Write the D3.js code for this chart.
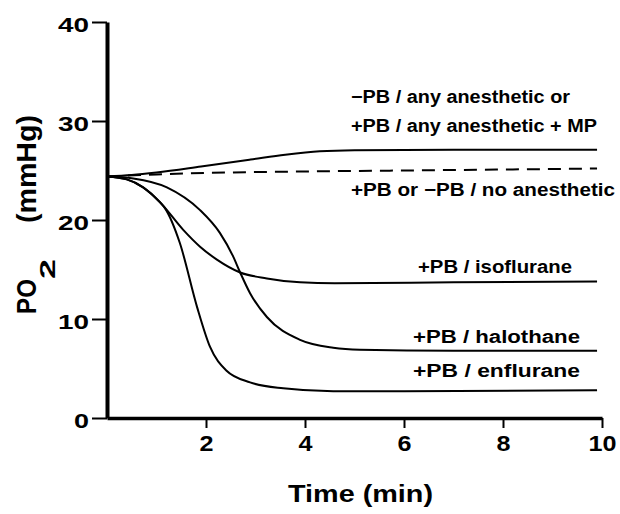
<!DOCTYPE html>
<html>
<head>
<meta charset="utf-8">
<script src="https://d3js.org/d3.v7.min.js"></script>
<style>
    body {
        margin: 0;
        background: #fff;
    }

    svg text {
        font-family: "Liberation Sans", Arial, Helvetica, sans-serif;
        font-weight: bold;
        fill: #000;
    }
</style>
</head>
<body>
<script>

    // axis ticks
    var timeTicks = [2, 4, 6, 8, 10];
    var po2Ticks = [0, 10, 20, 30, 40];

    // [time (min), PO2 (mmHg)]
    var mpCurve = [[0, 24.4], [0.5, 24.55], [1, 24.8], [1.9, 25.4], [2.9, 26.1], [3.6, 26.6],
        [4.3, 26.95], [5, 27.05], [7, 27.1], [9.9, 27.1]];
    var noAnestheticCurve = [[0, 24.4], [1, 24.6], [2, 24.75], [4, 24.9], [6, 25.0], [8, 25.1], [9.9, 25.2]];
    var isofluraneCurve = [[0, 24.4], [0.4, 24.1], [0.73, 23.3], [1.07, 21.8], [1.54, 19.0], [1.88, 17.3],
        [2.22, 16.0], [2.69, 14.7], [3.23, 14.1], [3.9, 13.7], [4.6, 13.6], [7, 13.7], [9.9, 13.8]];
    var halothaneCurve = [[0, 24.4], [0.53, 24.2], [1.21, 23.3], [1.88, 21.0], [2.28, 18.7], [2.55, 16.3],
        [2.69, 14.7], [2.89, 12.6], [3.23, 10.2], [3.9, 7.9], [4.57, 7.1], [5.11, 6.9], [7, 6.8], [9.9, 6.8]];
    var enfluraneCurve = [[0, 24.4], [0.4, 24.1], [0.73, 23.3], [1.07, 21.8], [1.17, 21.2], [1.47, 17.7],
        [1.82, 11.2], [2.08, 7.2], [2.41, 4.8], [2.89, 3.6], [3.56, 3.0], [4.57, 2.7], [6, 2.7], [9.9, 2.8]];

    var curveLabels = ["\u2212PB / any anesthetic or", "+PB / any anesthetic + MP", "+PB or  \u2212PB / no anesthetic",
        "+PB / isoflurane", "+PB / halothane", "+PB / enflurane"];

    var svg = d3.select("body").append("svg")
        .attr("width", 620)
        .attr("height", 514);

    svg.append("rect")
        .attr("width", 620)
        .attr("height", 514)
        .attr("fill", "#fff");

    var xScale = d3.scaleLinear()
        .domain([0, 10])
        .range([107, 602]);

    var yScale = d3.scaleLinear()
        .domain([0, 40])
        .range([418, 22]);

    // y axis
    var yAxis = svg.append("g")
        .attr("transform", "translate(" + xScale(0) + ",0)")
        .call(d3.axisLeft(yScale).tickValues(po2Ticks).tickSize(15).tickSizeOuter(0));

    yAxis.select(".domain").attr("stroke-width", 4);
    yAxis.selectAll(".tick line").attr("stroke-width", 2);
    yAxis.selectAll(".tick text")
        .attr("x", -18)
        .attr("y", 9)
        .attr("dy", null)
        .style("font-size", "21px")
        .attr("textLength", function (d) { return String(d).length > 1 ? 31 : 15; })
        .attr("lengthAdjust", "spacingAndGlyphs");

    // x axis
    var xAxis = svg.append("g")
        .attr("transform", "translate(0," + yScale(0) + ")")
        .call(d3.axisBottom(xScale).tickValues(timeTicks).tickSize(10).tickSizeOuter(0));

    xAxis.select(".domain").attr("stroke-width", 3.5);
    xAxis.selectAll(".tick line").attr("stroke-width", 2);
    xAxis.selectAll(".tick text")
        .attr("y", 33)
        .attr("dy", null)
        .style("font-size", "22px")
        .attr("textLength", function (d) { return String(d).length > 1 ? 28 : 14; })
        .attr("lengthAdjust", "spacingAndGlyphs");

    svg.selectAll(".domain").attr("stroke", "#000");
    svg.selectAll(".tick line").attr("stroke", "#000");
    svg.selectAll(".tick text").attr("fill", "#000");

    // axis titles
    svg.append("text")
        .attr("x", 288)
        .attr("y", 502)
        .style("font-size", "24px")
        .attr("textLength", 145)
        .attr("lengthAdjust", "spacingAndGlyphs")
        .text("Time (min)");

    svg.append("text")
        .attr("transform", "translate(36,314) rotate(-90)")
        .style("font-size", "28px")
        .attr("textLength", 35)
        .attr("lengthAdjust", "spacingAndGlyphs")
        .text("PO");

    svg.append("text")
        .attr("transform", "translate(55,279) rotate(-90)")
        .style("font-size", "22px")
        .attr("textLength", 20)
        .attr("lengthAdjust", "spacingAndGlyphs")
        .text("2");

    svg.append("text")
        .attr("transform", "translate(36,223) rotate(-90)")
        .style("font-size", "28px")
        .attr("textLength", 108)
        .attr("lengthAdjust", "spacingAndGlyphs")
        .text("(mmHg)");

    // curves
    var line = d3.line()
        .x(function (d) { return xScale(d[0]); })
        .y(function (d) { return yScale(d[1]); })
        .curve(d3.curveMonotoneX);

    var solidCurves = [mpCurve, isofluraneCurve, halothaneCurve, enfluraneCurve];

    svg.selectAll(".curve")
        .data(solidCurves)
        .enter().append("path")
        .attr("class", "curve")
        .attr("d", line)
        .attr("fill", "none")
        .attr("stroke", "#000")
        .attr("stroke-width", 2);

    svg.append("path")
        .datum(noAnestheticCurve)
        .attr("d", line)
        .attr("fill", "none")
        .attr("stroke", "#000")
        .attr("stroke-width", 2)
        .attr("stroke-dasharray", "13,8");

    // curve labels: [x, baseline, width]
    var labelPos = [[351, 103, 219], [351, 132, 246], [351, 196, 264],
        [418, 273, 154], [413, 343, 167], [413, 377, 167]];

    svg.selectAll(".curve-label")
        .data(curveLabels)
        .enter().append("text")
        .attr("class", "curve-label")
        .attr("x", function (d, i) { return labelPos[i][0]; })
        .attr("y", function (d, i) { return labelPos[i][1]; })
        .attr("textLength", function (d, i) { return labelPos[i][2]; })
        .attr("lengthAdjust", "spacingAndGlyphs")
        .style("font-size", "18px")
        .text(function (d) { return d; });

</script>
</body>
</html>
